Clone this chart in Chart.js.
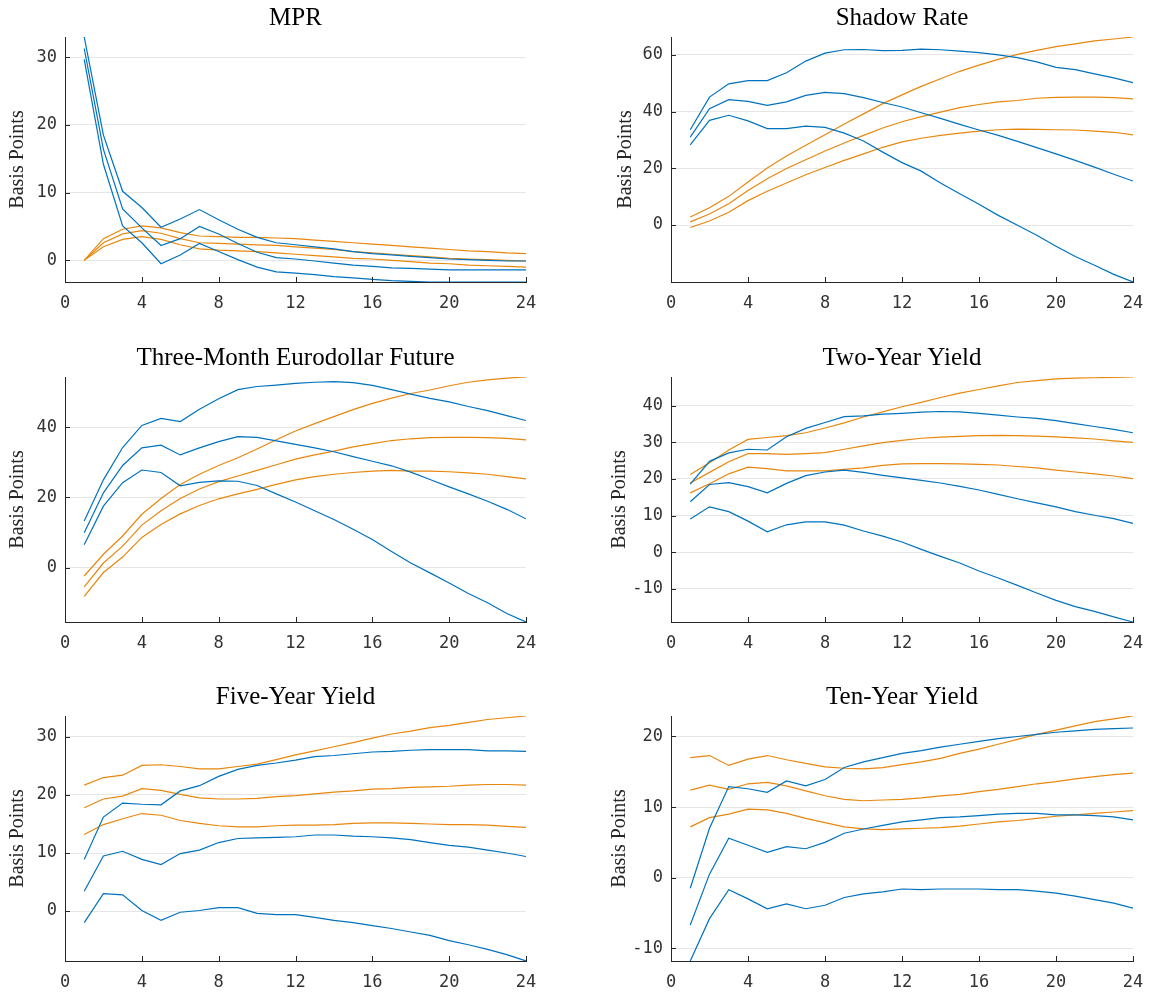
<!doctype html>
<html>
<head>
	<meta charset="utf-8">
	<title>Impulse responses</title>
	<style>
		body { margin: 0; background: #fff; }
		.panel { position: absolute; height: 320px; }
	</style>
</head>
<body>
	<div class="panel" style="left:0;top:0;width:548px"><canvas id="c0"></canvas></div>
	<div class="panel" style="left:608px;top:0;width:547px"><canvas id="c1"></canvas></div>
	<div class="panel" style="left:0;top:340px;width:548px"><canvas id="c2"></canvas></div>
	<div class="panel" style="left:608px;top:340px;width:547px"><canvas id="c3"></canvas></div>
	<div class="panel" style="left:0;top:679px;width:548px"><canvas id="c4"></canvas></div>
	<div class="panel" style="left:608px;top:679px;width:547px"><canvas id="c5"></canvas></div>
	<script src="https://cdn.jsdelivr.net/npm/chart.js@4.4.0/dist/chart.umd.min.js"></script>
	<script>
	// horizons (months)
	var horizons = [1, 2, 3, 4, 5, 6, 7, 8, 9, 10, 11, 12, 13, 14, 15, 16, 17, 18, 19, 20, 21, 22, 23, 24];
	var xTicks = [0, 4, 8, 12, 16, 20, 24];

	// MPR
	var mprBlueHigh = [33.0, 18.5, 10.2, 7.8, 4.9, 6.1, 7.5, 6.0, 4.6, 3.4, 2.6, 2.3, 2.0, 1.7, 1.3, 1.0, 0.8, 0.6, 0.4, 0.2, 0.1, 0.0, -0.1, -0.1];
	var mprBlueMid = [31.3, 16.4, 7.6, 4.8, 2.2, 3.2, 5.0, 3.9, 2.5, 1.2, 0.4, 0.2, -0.1, -0.4, -0.7, -0.9, -1.1, -1.2, -1.3, -1.4, -1.4, -1.4, -1.4, -1.4];
	var mprBlueLow = [29.7, 14.2, 5.1, 2.6, -0.5, 0.8, 2.5, 1.3, 0.1, -1.0, -1.7, -1.9, -2.1, -2.4, -2.6, -2.8, -3.0, -3.1, -3.2, -3.2, -3.2, -3.2, -3.2, -3.2];
	var mprOrangeHigh = [0, 3.2, 4.6, 5.1, 4.8, 4.1, 3.6, 3.5, 3.4, 3.4, 3.3, 3.2, 3.0, 2.8, 2.6, 2.4, 2.2, 2.0, 1.8, 1.6, 1.4, 1.3, 1.1, 1.0];
	var mprOrangeMid = [0, 2.6, 3.9, 4.4, 4.0, 3.2, 2.6, 2.5, 2.4, 2.3, 2.2, 2.0, 1.8, 1.6, 1.3, 1.1, 0.9, 0.7, 0.5, 0.3, 0.2, 0.1, 0.0, -0.1];
	var mprOrangeLow = [0, 2.0, 3.1, 3.5, 3.1, 2.3, 1.7, 1.5, 1.4, 1.3, 1.1, 0.9, 0.7, 0.5, 0.3, 0.2, 0.0, -0.2, -0.4, -0.5, -0.7, -0.8, -0.9, -1.0];
	var mprTicks = [0, 10, 20, 30];

	// Shadow Rate
	var shadowBlueHigh = [33.6, 45.1, 49.8, 50.9, 50.9, 53.7, 57.8, 60.6, 61.8, 61.9, 61.5, 61.6, 62.0, 61.8, 61.3, 60.8, 60.0, 59.0, 57.5, 55.6, 54.8, 53.3, 51.9, 50.2];
	var shadowBlueMid = [31.0, 41.0, 44.2, 43.6, 42.2, 43.4, 45.7, 46.8, 46.3, 44.9, 43.2, 41.6, 39.6, 37.6, 35.5, 33.5, 31.6, 29.5, 27.3, 25.1, 22.8, 20.4, 17.9, 15.5];
	var shadowBlueLow = [28.3, 36.9, 38.7, 36.7, 34.0, 34.0, 34.9, 34.4, 32.4, 29.6, 25.7, 22.0, 19.0, 14.8, 11.0, 7.3, 3.4, -0.1, -3.6, -7.5, -11.1, -14.2, -17.4, -20.1];
	var shadowOrangeHigh = [2.8, 6.1, 10.1, 15.2, 20.1, 24.3, 28.1, 31.8, 35.6, 39.2, 42.8, 45.9, 48.9, 51.6, 54.2, 56.4, 58.4, 60.2, 61.6, 62.9, 63.9, 64.9, 65.6, 66.3];
	var shadowOrangeMid = [1.1, 3.9, 7.5, 12.2, 16.3, 19.9, 23.0, 26.1, 28.9, 31.6, 34.2, 36.4, 38.2, 39.8, 41.4, 42.5, 43.4, 43.9, 44.7, 45.0, 45.1, 45.1, 44.9, 44.5];
	var shadowOrangeLow = [-0.9, 1.4, 4.5, 8.6, 11.9, 14.8, 17.7, 20.3, 22.8, 25.1, 27.4, 29.3, 30.6, 31.6, 32.4, 33.1, 33.6, 33.8, 33.7, 33.6, 33.5, 33.1, 32.7, 31.8];
	var shadowTicks = [0, 20, 40, 60];

	// Three-Month Eurodollar Future
	var edBlueHigh = [13.3, 25.0, 34.2, 40.5, 42.5, 41.6, 45.1, 48.1, 50.7, 51.6, 52.0, 52.5, 52.8, 53.0, 52.7, 51.9, 50.7, 49.4, 48.2, 47.2, 45.9, 44.7, 43.3, 41.9];
	var edBlueMid = [9.9, 21.3, 29.1, 34.1, 34.9, 32.1, 34.1, 35.9, 37.3, 37.1, 36.1, 35.1, 34.1, 33.0, 31.6, 30.3, 29.0, 27.2, 25.1, 23.0, 21.0, 18.9, 16.6, 13.9];
	var edBlueLow = [6.5, 17.5, 24.2, 27.8, 27.1, 23.3, 24.3, 24.7, 24.6, 23.4, 21.0, 18.7, 16.2, 13.7, 10.9, 8.0, 4.6, 1.3, -1.5, -4.4, -7.4, -10.0, -13.1, -15.5];
	var edOrangeHigh = [-2.4, 3.8, 9.0, 15.2, 19.7, 23.7, 26.6, 29.1, 31.3, 33.8, 36.4, 38.9, 41.0, 43.0, 45.0, 46.8, 48.3, 49.6, 50.6, 51.8, 52.8, 53.5, 54.0, 54.3];
	var edOrangeMid = [-5.5, 1.3, 6.1, 12.1, 16.2, 19.7, 22.4, 24.5, 26.1, 27.7, 29.3, 30.9, 32.1, 33.2, 34.4, 35.3, 36.2, 36.7, 37.0, 37.1, 37.1, 37.0, 36.8, 36.4];
	var edOrangeLow = [-8.2, -1.4, 3.0, 8.6, 12.3, 15.3, 17.7, 19.6, 21.0, 22.3, 23.7, 25.0, 25.9, 26.6, 27.1, 27.5, 27.7, 27.5, 27.5, 27.3, 27.0, 26.6, 25.9, 25.3];
	var edTicks = [0, 20, 40];

	// Two-Year Yield
	var twoBlueHigh = [18.6, 24.8, 27.1, 28.1, 27.9, 31.5, 33.8, 35.4, 37.0, 37.2, 37.7, 37.9, 38.2, 38.4, 38.3, 37.9, 37.4, 36.9, 36.5, 35.9, 35.1, 34.3, 33.5, 32.6];
	var twoBlueMid = [13.8, 18.5, 19.0, 17.9, 16.2, 18.8, 20.9, 21.9, 22.4, 21.8, 21.0, 20.3, 19.6, 18.9, 18.0, 17.0, 15.8, 14.6, 13.5, 12.4, 11.1, 10.1, 9.2, 7.9];
	var twoBlueLow = [9.1, 12.4, 11.1, 8.5, 5.6, 7.5, 8.3, 8.3, 7.4, 5.8, 4.4, 2.8, 0.8, -1.1, -2.9, -5.1, -7.0, -9.0, -11.1, -13.1, -14.8, -16.1, -17.6, -19.0];
	var twoOrangeHigh = [21.2, 24.4, 27.9, 30.8, 31.3, 31.8, 32.6, 33.9, 35.3, 36.9, 38.3, 39.7, 40.9, 42.2, 43.4, 44.4, 45.4, 46.3, 46.8, 47.3, 47.5, 47.6, 47.7, 47.8];
	var twoOrangeMid = [18.9, 21.8, 24.7, 26.9, 26.9, 26.7, 26.9, 27.2, 28.1, 29.0, 29.9, 30.5, 31.1, 31.4, 31.6, 31.8, 31.9, 31.8, 31.7, 31.5, 31.2, 30.9, 30.4, 30.0];
	var twoOrangeLow = [16.2, 18.7, 21.4, 23.2, 22.8, 22.2, 22.2, 22.2, 22.6, 23.0, 23.7, 24.1, 24.2, 24.2, 24.1, 24.0, 23.8, 23.4, 23.0, 22.4, 21.9, 21.4, 20.8, 20.1];
	var twoTicks = [-10, 0, 10, 20, 30, 40];

	// Five-Year Yield
	var fiveBlueHigh = [8.9, 16.2, 18.6, 18.4, 18.3, 20.7, 21.6, 23.2, 24.4, 25.1, 25.5, 26.0, 26.6, 26.8, 27.1, 27.4, 27.5, 27.7, 27.8, 27.8, 27.8, 27.6, 27.6, 27.5];
	var fiveBlueMid = [3.4, 9.5, 10.3, 8.9, 8.0, 9.9, 10.5, 11.8, 12.5, 12.6, 12.7, 12.8, 13.1, 13.1, 12.9, 12.8, 12.6, 12.3, 11.8, 11.3, 11.0, 10.5, 10.0, 9.4];
	var fiveBlueLow = [-2.0, 3.0, 2.8, 0.1, -1.6, -0.2, 0.1, 0.6, 0.6, -0.4, -0.6, -0.6, -1.1, -1.6, -2.0, -2.5, -3.0, -3.6, -4.2, -5.1, -5.8, -6.6, -7.5, -8.6];
	var fiveOrangeHigh = [21.7, 23.0, 23.4, 25.1, 25.2, 24.9, 24.5, 24.5, 24.9, 25.3, 26.1, 26.9, 27.6, 28.3, 29.0, 29.8, 30.5, 31.0, 31.6, 32.0, 32.5, 33.0, 33.3, 33.6];
	var fiveOrangeMid = [17.8, 19.3, 19.8, 21.1, 20.8, 20.1, 19.5, 19.3, 19.3, 19.4, 19.7, 19.9, 20.2, 20.5, 20.7, 21.0, 21.1, 21.3, 21.4, 21.5, 21.7, 21.8, 21.8, 21.7];
	var fiveOrangeLow = [13.2, 14.9, 15.9, 16.8, 16.5, 15.6, 15.1, 14.7, 14.5, 14.5, 14.7, 14.8, 14.8, 14.9, 15.1, 15.2, 15.2, 15.1, 15.0, 14.9, 14.9, 14.8, 14.6, 14.4];
	var fiveTicks = [0, 10, 20, 30];

	// Ten-Year Yield
	var tenBlueHigh = [-1.5, 7.0, 12.9, 12.6, 12.1, 13.7, 13.0, 13.9, 15.6, 16.4, 17.0, 17.6, 18.0, 18.5, 18.9, 19.3, 19.7, 20.0, 20.3, 20.6, 20.8, 21.0, 21.1, 21.2];
	var tenBlueMid = [-6.7, 0.5, 5.6, 4.6, 3.6, 4.4, 4.1, 5.0, 6.3, 6.9, 7.4, 7.9, 8.2, 8.5, 8.6, 8.8, 9.0, 9.1, 9.1, 8.9, 8.9, 8.8, 8.6, 8.2];
	var tenBlueLow = [-11.8, -5.8, -1.7, -3.0, -4.4, -3.7, -4.4, -3.9, -2.8, -2.3, -2.0, -1.6, -1.7, -1.6, -1.6, -1.6, -1.7, -1.7, -1.9, -2.2, -2.6, -3.1, -3.6, -4.3];
	var tenOrangeHigh = [17.0, 17.3, 15.9, 16.8, 17.3, 16.7, 16.2, 15.7, 15.5, 15.4, 15.6, 16.0, 16.4, 16.9, 17.6, 18.2, 18.9, 19.6, 20.3, 20.9, 21.5, 22.1, 22.5, 22.9];
	var tenOrangeMid = [12.4, 13.1, 12.5, 13.3, 13.5, 13.0, 12.3, 11.6, 11.1, 10.9, 11.0, 11.1, 11.3, 11.6, 11.8, 12.2, 12.5, 12.9, 13.3, 13.6, 14.0, 14.3, 14.6, 14.8];
	var tenOrangeLow = [7.2, 8.5, 9.0, 9.7, 9.6, 9.1, 8.4, 7.8, 7.2, 6.9, 6.8, 6.9, 7.0, 7.1, 7.3, 7.6, 7.9, 8.1, 8.4, 8.7, 8.9, 9.1, 9.3, 9.5];
	var tenTicks = [-10, 0, 10, 20];

	var BLUE = '#0072BD';
	var ORANGE = '#E8870E';
	var AXIS = '#262626';

	// small inward tick marks, matlab style
	var insideTicks = {
		id: 'insideTicks',
		afterDraw: function(chart) {
			var ctx = chart.ctx, area = chart.chartArea;
			var xs = chart.scales.x, ys = chart.scales.y;
			ctx.save();
			ctx.strokeStyle = AXIS;
			ctx.lineWidth = 1;
			ctx.beginPath();
			xs.ticks.forEach(function(t) {
				var px = Math.round(xs.getPixelForValue(t.value)) + 0.5;
				ctx.moveTo(px, area.bottom);
				ctx.lineTo(px, area.bottom - 5);
			});
			ys.ticks.forEach(function(t) {
				var py = Math.round(ys.getPixelForValue(t.value)) + 0.5;
				ctx.moveTo(area.left, py);
				ctx.lineTo(area.left + 5, py);
			});
			ctx.stroke();
			ctx.restore();
		}
	};

	function toPoints(values) {
		return values.map(function(v, i) { return { x: horizons[i], y: v }; });
	}

	function line(values, color) {
		return {
			data: toPoints(values),
			borderColor: color,
			borderWidth: 1.2,
			pointRadius: 0,
			tension: 0,
			fill: false
		};
	}

	function makePanel(id, title, blues, oranges, yTicks, right, labelPad) {
		var all = blues.concat(oranges);
		var yMin = Math.min.apply(null, all.map(function(s) { return Math.min.apply(null, s); }));
		var yMax = Math.max.apply(null, all.map(function(s) { return Math.max.apply(null, s); }));
		var datasets = [];
		blues.forEach(function(s) { datasets.push(line(s, BLUE)); });
		oranges.forEach(function(s) { datasets.push(line(s, ORANGE)); });

		new Chart(document.getElementById(id), {
			type: 'line',
			data: { datasets: datasets },
			plugins: [insideTicks],
			options: {
				responsive: true,
				maintainAspectRatio: false,
				animation: false,
				layout: { padding: { left: 0, right: 22, top: 0, bottom: 3 } },
				plugins: {
					legend: { display: false },
					tooltip: { enabled: false },
					title: {
						display: true,
						text: title,
						fullSize: false,
						color: '#000',
						font: { family: 'Liberation Serif', size: 25, weight: 'normal' },
						padding: { top: 3, bottom: 4 }
					}
				},
				scales: {
					x: {
						type: 'linear',
						min: 0,
						max: 24,
						afterBuildTicks: function(axis) {
							axis.ticks = xTicks.map(function(v) { return { value: v }; });
						},
						afterFit: function(axis) { axis.height = 35; },
						grid: { display: false, drawTicks: false },
						border: { display: true, color: AXIS, width: 1 },
						ticks: {
							color: '#333',
							padding: 11,
							maxRotation: 0,
							font: { family: 'DejaVu Sans Mono', size: 17 }
						}
					},
					y: {
						type: 'linear',
						min: yMin,
						max: yMax,
						afterBuildTicks: function(axis) {
							axis.ticks = yTicks.map(function(v) { return { value: v }; });
						},
						afterFit: function(axis) { axis.width = right ? 63 : 65; },
						grid: { color: '#e6e6e6', lineWidth: 1, drawTicks: false },
						border: { display: true, color: AXIS, width: 1 },
						ticks: {
							color: '#333',
							padding: 8,
							font: { family: 'DejaVu Sans Mono', size: 17 }
						},
						title: {
							display: true,
							text: 'Basis Points',
							color: '#262626',
							font: { family: 'Liberation Serif', size: 20 },
							padding: { top: labelPad, bottom: 0 }
						}
					}
				}
			}
		});
	}

	makePanel('c0', 'MPR', [mprBlueHigh, mprBlueMid, mprBlueLow], [mprOrangeHigh, mprOrangeMid, mprOrangeLow], mprTicks, false, 6);
	makePanel('c1', 'Shadow Rate', [shadowBlueHigh, shadowBlueMid, shadowBlueLow], [shadowOrangeHigh, shadowOrangeMid, shadowOrangeLow], shadowTicks, true, 6);
	makePanel('c2', 'Three-Month Eurodollar Future', [edBlueHigh, edBlueMid, edBlueLow], [edOrangeHigh, edOrangeMid, edOrangeLow], edTicks, false, 6);
	makePanel('c3', 'Two-Year Yield', [twoBlueHigh, twoBlueMid, twoBlueLow], [twoOrangeHigh, twoOrangeMid, twoOrangeLow], twoTicks, true, 0);
	makePanel('c4', 'Five-Year Yield', [fiveBlueHigh, fiveBlueMid, fiveBlueLow], [fiveOrangeHigh, fiveOrangeMid, fiveOrangeLow], fiveTicks, false, 6);
	makePanel('c5', 'Ten-Year Yield', [tenBlueHigh, tenBlueMid, tenBlueLow], [tenOrangeHigh, tenOrangeMid, tenOrangeLow], tenTicks, true, 0);
	</script>
</body>
</html>
